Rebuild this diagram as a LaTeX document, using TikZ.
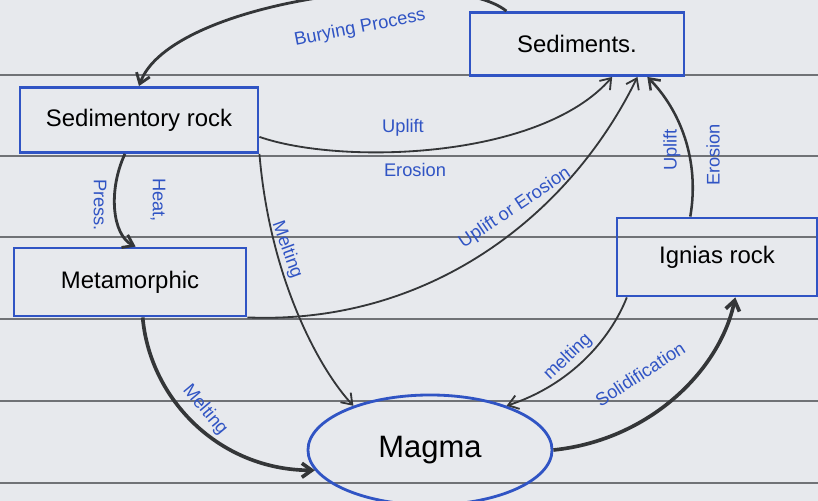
\documentclass[tikz,border=0pt]{standalone}
\usepackage{fontspec}
\setmainfont{Liberation Sans}
\usetikzlibrary{arrows.meta,shapes.geometric}
\definecolor{penblue}{RGB}{48,84,196}
\definecolor{ink}{RGB}{52,54,56}
\definecolor{paper}{RGB}{231,233,237}
\definecolor{ruling}{RGB}{112,114,118}

\begin{document}
\begin{tikzpicture}[x=0.025cm, y=-0.025cm,
    box/.style = {draw=penblue, line width=2pt, text=black, font=\fontsize{17}{19}\selectfont},
    lbl/.style = {text=penblue, font=\fontsize{13}{15}\selectfont},
    arr/.style = {draw=ink, line width=1.3pt, -{Straight Barb[length=7pt,width=10pt]}},
    heavy/.style = {arr, line width=2.6pt}]
    \useasboundingbox (0,0) rectangle (818,501);
    \clip (0,0) rectangle (818,501);
    \fill[paper] (0,0) rectangle (818,501);
    \foreach \y in {75,156,237,319,401,483}
        \draw[ruling, line width=0.8pt] (0,\y) -- (818,\y);

    \node[box, minimum width=5.35cm, minimum height=1.575cm] (sed) at (577,44) {Sediments.};
    \node[box, minimum width=5.95cm, minimum height=1.625cm] (sedrock) at (139,120) {Sedimentory rock};
    \node[box, minimum width=5.8cm, minimum height=1.7cm] (meta) at (130,282) {Metamorphic};
    \node[box, minimum width=5cm, minimum height=1.95cm] (ign) at (717,257) {Ignias rock};
    \node[box, ellipse, minimum width=6.1cm, minimum height=2.75cm, font=\fontsize{22}{24}\selectfont] (magma) at (430,450) {Magma};

    \draw[arr, line width=2pt] (sed.155) .. controls (450,-35) and (170,0) .. (sedrock.north);
    \draw[arr] ([yshift=-12pt]sedrock.east) .. controls (340,165) and (540,160) .. ([xshift=25pt]sed.south);
    \draw[arr, line width=2pt] ([xshift=-10pt]sedrock.south) .. controls (108,190) and (112,235) .. ([xshift=4pt]meta.north);
    \draw[arr] (sedrock.south east) .. controls (270,280) and (320,370) .. (magma.150);
    \draw[arr] (meta.south east) .. controls (430,325) and (570,215) .. ([xshift=43pt]sed.south);
    \draw[heavy] ([xshift=9pt]meta.south) .. controls (150,400) and (220,470) .. (magma.190);
    \draw[arr, line width=1.8pt] ([xshift=-19pt]ign.north) .. controls (700,160) and (680,110) .. ([xshift=50pt]sed.south);
    \draw[arr] ([xshift=8pt]ign.south west) .. controls (610,340) and (570,385) .. (magma.30);
    \draw[heavy] (magma.east) .. controls (650,440) and (720,370) .. ([xshift=13pt]ign.south);

    \node[lbl, rotate=11] (burying) at (360,28) {Burying Process};
    \node[lbl] (uplift1) at (403,128) {Uplift};
    \node[lbl] (erosion1) at (415,170) {Erosion};
    \node[lbl, rotate=-90] (heat) at (158,200) {Heat,};
    \node[lbl, rotate=-90] (press) at (100,205) {Press.};
    \node[lbl, rotate=-70] (melt1) at (287,250) {Melting};
    \node[lbl, rotate=34] (uplift2) at (515,208) {Uplift or Erosion};
    \node[lbl, rotate=90] (uplift3) at (672,150) {Uplift};
    \node[lbl, rotate=90] (erosion3) at (713,155) {Erosion};
    \node[lbl, rotate=44] (melt2) at (568,357) {melting};
    \node[lbl, rotate=33] (solid) at (640,374) {Solidification};
    \node[lbl, rotate=-50] (melt3) at (205,410) {Melting};

\end{tikzpicture}
\end{document}
